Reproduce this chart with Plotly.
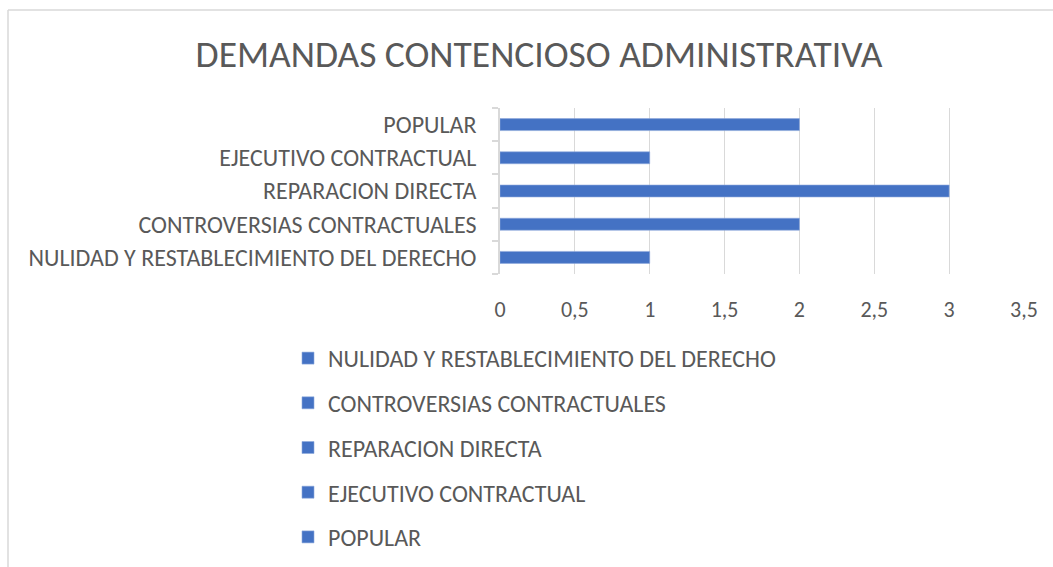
import plotly.graph_objects as go

categories = [
    "NULIDAD Y RESTABLECIMIENTO DEL DERECHO",
    "CONTROVERSIAS CONTRACTUALES",
    "REPARACION DIRECTA",
    "EJECUTIVO CONTRACTUAL",
    "POPULAR",
]
values = [1, 2, 3, 1, 2]
x_ticks = [0, 0.5, 1, 1.5, 2, 2.5, 3, 3.5]
title_text = "DEMANDAS CONTENCIOSO ADMINISTRATIVA"

W, H = 1053, 567
ML, MR, MT, MB = 500, 29, 108, 293
PW, PH = W - ML - MR, H - MT - MB
FONT = "Carlito, Calibri, Lato, sans-serif"
BAR = "#4472C4"
GREY = "#595959"

fig = go.Figure()
for i, (c, v) in enumerate(zip(categories, values)):
    fig.add_trace(go.Bar(
        x=[v], y=[c], orientation="h", name=c,
        marker=dict(color=BAR, line=dict(color="#8FAADC", width=0.6)),
        legendgroup=f"g{i}", showlegend=True,
    ))

def px_x(p):
    return (p - ML) / PW

def px_y(p):
    return (H - MB - p) / PH

shapes = [
    dict(type="line", xref="paper", yref="paper", x0=px_x(8), x1=px_x(1060), y0=px_y(10), y1=px_y(10),
         line=dict(color="#d9d9d9", width=1.5), layer="below"),
    dict(type="line", xref="paper", yref="paper", x0=px_x(8), x1=px_x(8), y0=px_y(10), y1=px_y(570),
         line=dict(color="#d9d9d9", width=1.5), layer="below"),
]

fig.update_layout(
    width=W, height=H,
    margin=dict(l=ML, r=MR, t=MT, b=MB, pad=0, autoexpand=False),
    paper_bgcolor="white", plot_bgcolor="white",
    barmode="overlay", bargap=0.64,
    separators=", ",
    font=dict(family=FONT, color=GREY, size=24),
    title=dict(text=title_text, x=539 / W, xanchor="center", xref="container",
               y=1 - 54 / H, yanchor="middle", yref="container",
               font=dict(family=FONT, size=37.5, color=GREY)),
    xaxis=dict(range=[0, 3.5], tickvals=x_ticks, showgrid=True, gridcolor="#d9d9d9", gridwidth=1.3,
               zeroline=False, showline=False, ticks="", tickfont=dict(size=22, color=GREY),
               ticklabelstandoff=20, automargin=False, fixedrange=True),
    yaxis=dict(categoryorder="array", categoryarray=categories, showline=True, linecolor="#d9d9d9",
               linewidth=1.5, ticks="outside", ticklen=6, tickcolor="#d9d9d9", tickwidth=1.5,
               tickson="boundaries", showgrid=False, tickfont=dict(size=24, color=GREY),
               ticklabelstandoff=17, automargin=False, fixedrange=True),
    legend=dict(orientation="v", xref="container", yref="container",
                x=(328 - 40) / W, xanchor="left", y=1 - 336 / H, yanchor="top",
                traceorder="grouped", tracegroupgap=10.5, font=dict(size=24, color=GREY),
                bgcolor="rgba(0,0,0,0)"),
    shapes=shapes,
)

fig.write_html("out.html", post_script="document.body.style.margin='0';",
               config={"displayModeBar": False})
